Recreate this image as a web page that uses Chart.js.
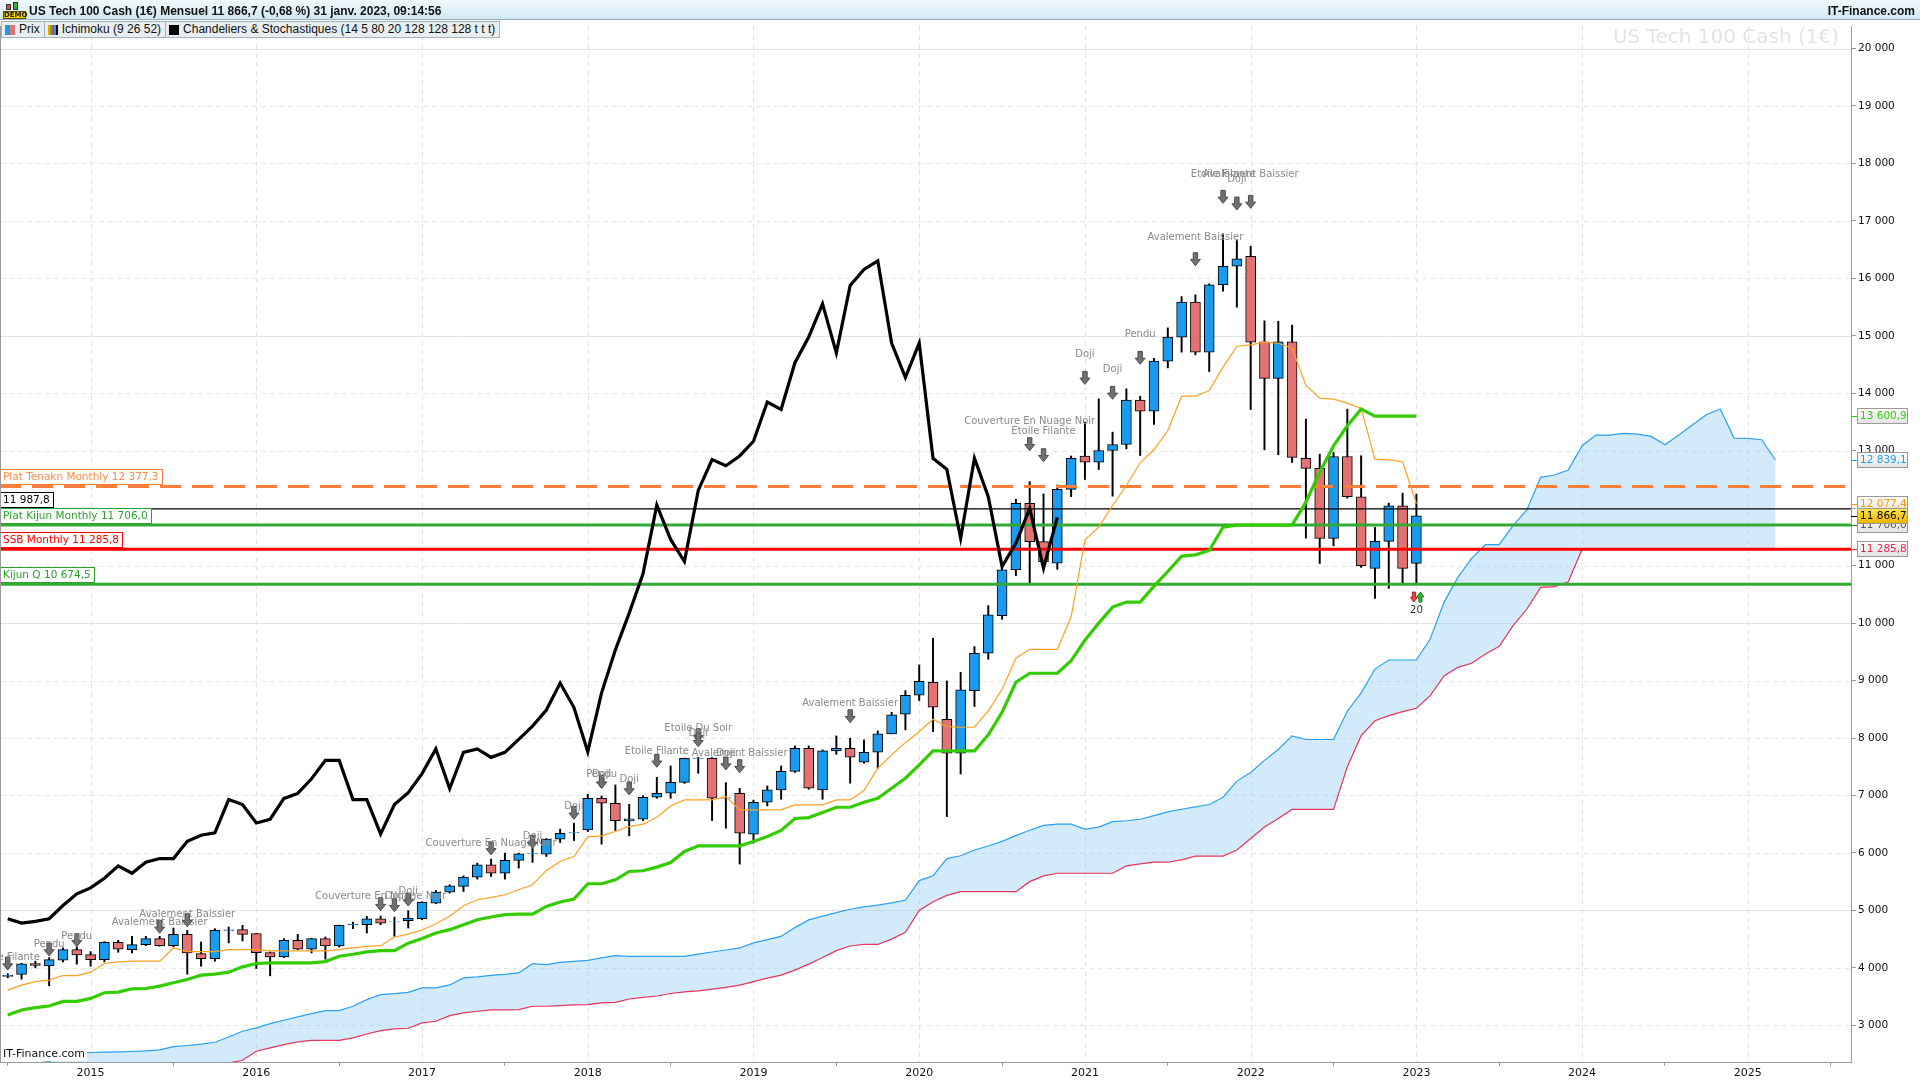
<!DOCTYPE html>
<html lang="fr">
<head>
<meta charset="utf-8">
<title>US Tech 100 Cash (1€) Mensuel</title>
<script src="https://cdn.jsdelivr.net/npm/chart.js@4.4.1/dist/chart.umd.min.js"></script>
<style>
html, body { margin: 0; padding: 0; background: #fff; }
body { position: relative; width: 1920px; height: 1080px; overflow: hidden; font-family: "Liberation Sans", Arial, sans-serif; }
#grafico { position: absolute; left: 0; top: 0; }
#entete { position: absolute; left: 0; top: 0; width: 1920px; height: 20px; box-sizing: border-box; background: linear-gradient(#f2fafd, #d0e8f3); border-bottom: 1px solid #98aebb; font-size: 12px; font-weight: bold; color: #111; line-height: 23px; z-index: 2; }
#entete .titre { position: absolute; left: 29px; top: 0; }
#entete .site { position: absolute; right: 5px; top: 0; }
#demo { position: absolute; left: 3px; top: 2px; width: 23px; height: 17px; }
#demo i { position: absolute; width: 5px; border: 1px solid #333; box-sizing: border-box; }
#demo b { position: absolute; left: 0; bottom: 0; width: 23px; height: 8px; background: #f6d200; color: #1a1a1a; font: bold 7px/7px "DejaVu Sans", sans-serif; text-align: center; border: 1px solid #5a4b00; box-sizing: border-box; }
#legende { position: absolute; left: 1px; top: 21px; height: 17px; box-sizing: border-box; display: flex; border: 1px solid #a3b2bb; background: #e9eef1; font-size: 12px; font-weight: normal; line-height: 15px; color: #111; z-index: 2; }
#legende span { display: flex; align-items: center; padding: 0 4px 0 3px; border-right: 1px solid #a3b2bb; }
#legende span:last-child { border-right: none; }
.ic { display: inline-block; width: 10px; height: 10px; margin-right: 4px; }
.prix { background: linear-gradient(90deg, #1a9bf0 50%, #e57272 50%); }
.ichi { background: linear-gradient(90deg, #ff9900 0 20%, #33cc00 20% 40%, #e8335a 40% 60%, #1a9bf0 60% 80%, #000 80%); }
.chand { background: #000; }
</style>
</head>
<body>
<canvas id="grafico" width="1920" height="1080"></canvas>
<div id="entete">
  <div id="demo"><i style="left:3px;top:2px;height:6px;background:#e04848"></i><i style="left:10px;top:0;height:8px;background:#2fb52f"></i><b>DEMO</b></div>
  <span class="titre">US Tech 100 Cash (1€) Mensuel 11 866,7 (-0,68 %) 31 janv. 2023, 09:14:56</span>
  <span class="site">IT-Finance.com</span>
</div>
<div id="legende">
  <span><i class="ic prix"></i>Prix</span>
  <span><i class="ic ichi"></i>Ichimoku (9 26 52)</span>
  <span><i class="ic chand"></i>Chandeliers &amp; Stochastiques (14 5 80 20 128 128 128 t t t)</span>
</div>
<script>
// Bougies mensuelles, de juillet 2014 (indice 0) à janvier 2023 (indice 102)
const ouvertures = [3850, 3884, 4075, 4034, 4132, 4317, 4230, 4144, 4444, 4317,
  4404, 4508, 4386, 4583, 4248, 4161, 4652, 4664, 4594, 4265,
  4190, 4479, 4323, 4508, 4381, 4745, 4750, 4854, 4797, 4820,
  4855, 5127, 5318, 5417, 5579, 5793, 5648, 5869, 5984, 5978,
  6239, 6350, 6401, 6951, 6864, 6557, 6586, 6969, 7038, 7229,
  7646, 7646, 6951, 7038, 6326, 6882, 7096, 7420, 7822, 7097,
  7775, 7822, 7578, 7752, 8071, 8413, 8744, 8970, 8326, 7735,
  8825, 9475, 10130, 10925, 12085, 11418, 11041, 12328, 12905, 12801,
  13004, 13108, 13880, 13688, 14558, 14976, 15585, 14715, 15886, 16211,
  16385, 14896, 14258, 14896, 12866, 12692, 11474, 12900, 12199, 10952,
  11421, 12042, 11039];
const plusHauts = [3901, 4080, 4115, 4178, 4346, 4363, 4283, 4456, 4479, 4548,
  4548, 4548, 4693, 4652, 4450, 4681, 4710, 4739, 4600, 4277,
  4508, 4583, 4515, 4537, 4745, 4797, 4895, 4900, 4883, 4994,
  5150, 5347, 5445, 5600, 5822, 5892, 5996, 5996, 6083, 6250,
  6413, 6517, 7021, 6992, 7183, 6847, 6992, 7316, 7513, 7650,
  7663, 7660, 7223, 7125, 6920, 7165, 7513, 7862, 7862, 7793,
  8036, 7996, 7967, 8123, 8448, 8825, 9272, 9736, 8993, 9144,
  9591, 10304, 10950, 12154, 12462, 12247, 12404, 12908, 13497, 13903,
  13323, 14077, 13949, 14610, 15138, 15683, 15712, 15904, 16774, 16658,
  16559, 15261, 15254, 15186, 13550, 12941, 12970, 13724, 12912, 11665,
  12088, 12262, 12245];
const plusBas = [3826, 3803, 4000, 3687, 4103, 4063, 4028, 4103, 4271, 4259,
  4386, 4375, 4363, 3890, 4028, 4115, 4433, 4467, 3988, 3861,
  4178, 4317, 4259, 4150, 4363, 4681, 4606, 4750, 4548, 4693,
  4838, 5115, 5300, 5330, 5544, 5590, 5544, 5735, 5834, 5938,
  6181, 6216, 6372, 6152, 6390, 6297, 6560, 6950, 6951, 7210,
  7385, 6563, 6430, 5805, 6170, 6818, 6934, 7400, 7108, 6934,
  7717, 7213, 7561, 7474, 8071, 8141, 8651, 8112, 6633, 7375,
  8547, 9370, 10066, 10826, 10681, 10954, 10936, 12201, 12499, 12673,
  12209, 13033, 12917, 13456, 14442, 14715, 14668, 14378, 15776, 15498,
  13717, 13016, 12929, 12796, 11479, 11039, 11346, 12175, 10969, 10430,
  10604, 10696, 10696];
const clotures = [3870, 4070, 4040, 4144, 4317, 4225, 4144, 4444, 4323, 4404,
  4508, 4386, 4583, 4259, 4161, 4652, 4660, 4583, 4265, 4190,
  4479, 4323, 4508, 4381, 4739, 4760, 4854, 4779, 4802, 4867,
  5139, 5318, 5428, 5579, 5793, 5648, 5869, 5984, 5990, 6239,
  6343, 6355, 6951, 6864, 6563, 6592, 6969, 7038, 7229, 7646,
  7650, 6951, 6960, 6343, 6882, 7096, 7420, 7822, 7126, 7775,
  7822, 7665, 7752, 8071, 8402, 8744, 8987, 8535, 7735, 8837,
  9475, 10142, 10925, 12085, 11418, 11070, 12328, 12868, 12801, 13004,
  13108, 13880, 13688, 14558, 14976, 15585, 14715, 15886, 16211, 16339,
  14889, 14258, 14896, 12883, 12692, 11474, 12900, 12199, 10998, 11421,
  12042, 10952, 11867];

// Ichimoku
const tenkan = [3612, 3700, 3760, 3785, 3866, 3866, 3924, 4075, 4103, 4115,
  4115, 4115, 4346, 4283, 4283, 4283, 4317, 4317, 4317, 4294,
  4294, 4294, 4294, 4294, 4317, 4346, 4375, 4386, 4537, 4586,
  4658, 4768, 4896, 5081, 5185, 5226, 5272, 5359, 5446, 5695,
  5851, 5938, 6285, 6297, 6372, 6459, 6500, 6621, 6818, 6922,
  6922, 6922, 6980, 6749, 6749, 6749, 6755, 6836, 6836, 6836,
  6923, 6923, 7085, 7474, 7706, 7920, 8112, 8326, 8199, 8187,
  8187, 8471, 8848, 9388, 9544, 9544, 9544, 10110, 11450, 11670,
  12047, 12395, 12790, 13021, 13352, 13949, 13949, 14048, 14454, 14819,
  14842, 14889, 14871, 14784, 14135, 13915, 13898, 13828, 13736, 12854,
  12842, 12808, 12077];
const kijun = [3179, 3266, 3306, 3335, 3416, 3416, 3468, 3566, 3578, 3635,
  3640, 3682, 3740, 3797, 3872, 3890, 3924, 4017, 4075, 4086,
  4086, 4086, 4086, 4109, 4202, 4236, 4277, 4300, 4300, 4430,
  4510, 4606, 4664, 4751, 4838, 4884, 4925, 4936, 4936, 5069,
  5145, 5197, 5463, 5463, 5533, 5677, 5689, 5753, 5834, 6025,
  6123, 6123, 6123, 6123, 6199, 6285, 6390, 6600, 6615, 6702,
  6795, 6795, 6882, 6952, 7126, 7300, 7532, 7775, 7775, 7775,
  7775, 8054, 8448, 8970, 9127, 9127, 9127, 9347, 9700, 10000,
  10278, 10365, 10365, 10643, 10898, 11165, 11188, 11264, 11670, 11706,
  11706, 11706, 11706, 11706, 12105, 12627, 13086, 13434, 13724, 13601,
  13601, 13601, 13601];
// nuage, décalé de 26 mois (jusqu'en mars 2025)
const ssa = [2250, 2300, 2340, 2370, 2457, 2503, 2526, 2532, 2538, 2544,
  2555, 2573, 2630, 2648, 2671, 2705, 2795, 2896, 2954, 3029,
  3087, 3145, 3203, 3255, 3255, 3331, 3447, 3534, 3551, 3574,
  3650, 3650, 3702, 3824, 3841, 3870, 3887, 3911, 4073, 4056,
  4096, 4114, 4131, 4172, 4212, 4200, 4200, 4201, 4201, 4201,
  4240, 4276, 4310, 4346, 4433, 4490, 4548, 4700, 4835, 4900,
  4960, 5020, 5060, 5090, 5130, 5176, 5518, 5603, 5902, 5950,
  6050, 6120, 6201, 6300, 6394, 6480, 6500, 6500, 6415, 6450,
  6543, 6560, 6586, 6650, 6714, 6760, 6800, 6842, 6970, 7250,
  7400, 7611, 7800, 8038, 7974, 7974, 7974, 8466, 8786, 9200,
  9358, 9358, 9358, 9723, 10361, 10796, 11127, 11364, 11364, 11695,
  11968, 12536, 12577, 12664, 13087, 13273, 13273, 13302, 13290, 13249,
  13104, 13273, 13452, 13626, 13725, 13220, 13215, 13191, 12839];
const ssb = [1950, 1980, 2010, 2040, 2080, 2110, 2140, 2160, 2180, 2200,
  2220, 2240, 2260, 2280, 2300, 2320, 2345, 2391, 2548, 2606,
  2664, 2710, 2739, 2739, 2739, 2780, 2849, 2907, 2936, 2948,
  3041, 3070, 3168, 3215, 3244, 3267, 3267, 3273, 3331, 3331,
  3342, 3354, 3360, 3389, 3400, 3458, 3487, 3510, 3553, 3580,
  3600, 3630, 3660, 3700, 3760, 3820, 3873, 3960, 4065, 4180,
  4300, 4380, 4407, 4407, 4500, 4620, 5000, 5150, 5260, 5326,
  5326, 5326, 5326, 5326, 5500, 5600, 5646, 5646, 5646, 5646,
  5646, 5774, 5810, 5838, 5838, 5880, 5945, 5945, 5945, 6050,
  6250, 6450, 6600, 6757, 6757, 6757, 6757, 7500, 8040, 8300,
  8389, 8459, 8517, 8737, 9080, 9230, 9300, 9462, 9595, 9955,
  10245, 10622, 10633, 10720, 11286, 11286, 11286, 11286, 11286, 11286,
  11286, 11286, 11286, 11286, 11286, 11286, 11286, 11286, 11286];

// courbe noire "Chandeliers & Stochastiques" (s'arrête en novembre 2020)
const stochastique = [4854, 4779, 4808, 4854, 5085, 5288, 5392, 5560, 5774, 5646,
  5838, 5902, 5902, 6201, 6308, 6351, 6928, 6842, 6522, 6586,
  6949, 7035, 7291, 7611, 7611, 6928, 6928, 6330, 6842, 7050,
  7380, 7810, 7120, 7750, 7810, 7663, 7750, 7976, 8208, 8486,
  8957, 8530, 7762, 8786, 9534, 10174, 10858, 12054, 11456, 11072,
  12310, 12845, 12738, 12909, 13165, 13848, 13720, 14532, 14980, 15557,
  14703, 15877, 16155, 16305, 14874, 14275, 14874, 12868, 12676, 11476,
  12868, 12201, 10983, 11389, 11998, 10954, 11841];

const annees = ['2015', '2016', '2017', '2018', '2019', '2020', '2021', '2022', '2023', '2024', '2025'];
const graduationsPrix = [3000, 4000, 5000, 6000, 7000, 8000, 9000, 10000, 11000,
  12000, 13000, 14000, 15000, 16000, 17000, 18000, 19000, 20000];

// niveaux horizontaux
const niveaux = [12377.3, 11987.8, 11706.0, 11285.8, 10674.5];
const nomsNiveaux = ['Plat Tenakn Monthly', '', 'Plat Kijun Monthly', 'SSB Monthly', 'Kijun Q'];
// étiquettes de l'axe de droite
const valeursDroite = [13600.9, 12839.1, 12077.4, 11706.0, 11866.7, 11285.8];

// figures de chandeliers : [mois, texte, pointe de la flèche, centre du texte]
const figures = [
  [0, 'Etoile Filante', 3962, 4183],
  [3, 'Pendu', 4206, 4415],
  [5, 'Pendu', 4368, 4542],
  [11, 'Avalement Baissier', 4601, 4792],
  [13, 'Avalement Baissier', 4716, 4937],
  [27, 'Couverture En Nuage Noir', 4995, 5238],
  [28, 'Doji', 4977, 5238],
  [29, 'Doji', 5076, 5325],
  [35, 'Couverture En Nuage Noir', 5966, 6167],
  [38, 'Doji', 6080, 6294],
  [41, 'Doji', 6585, 6804],
  [43, 'Pendu', 7124, 7373],
  [43, 'Doji', 7124, 7373],
  [45, 'Doji', 7008, 7281],
  [47, 'Etoile Filante', 7490, 7761],
  [50, 'Etoile Du Soir', 7935, 8169],
  [50, 'Doji', 7848, 8082],
  [52, 'Doji', 7443, 7733],
  [53, 'Avalement Baissier', 7396, 7733],
  [61, 'Avalement Baissier', 8266, 8604],
  [74, 'Couverture En Nuage Noir', 13000, 13504],
  [75, 'Etoile Filante', 12808, 13330],
  [78, 'Doji', 14155, 14682],
  [80, 'Doji', 13894, 14416],
  [82, 'Pendu', 14503, 15030],
  [86, 'Avalement Baissier', 16220, 16713],
  [88, 'Etoile Filante', 17305, 17810],
  [89, 'Doji', 17189, 17723],
  [90, 'Avalement Baissier', 17218, 17810]
];
// signal sous la dernière bougie
const signal = { mois: 102, prix: 10453, texte: '20' };

const xMin = -0.56, xMax = 133.47;
const yMin = 2361, yMax = 20392;

function fmt(v, d) {
  var partes = v.toFixed(d).split('.');
  var ent = partes[0].replace(/\B(?=(\d{3})+(?!\d))/g, ' ');
  return partes.length > 1 ? ent + ',' + partes[1] : ent;
}
function serie(valores) {
  return valores.map((v, i) => ({ x: i, y: v }));
}
function ligne(valores, couleur, epaisseur, ordre, extra) {
  return Object.assign({
    type: 'line', data: serie(valores), borderColor: couleur, borderWidth: epaisseur,
    pointRadius: 0, tension: 0, fill: false, order: ordre
  }, extra || {});
}

// grille, filigrane
const grille = {
  id: 'grille',
  beforeDatasetsDraw(chart) {
    const { ctx, chartArea: a, scales: { x, y } } = chart;
    ctx.save();
    ctx.beginPath();
    ctx.rect(a.left, a.top, a.right - a.left, a.bottom - a.top);
    ctx.clip();
    ctx.font = '20px "DejaVu Sans"';
    ctx.fillStyle = '#e4e4e4';
    ctx.textAlign = 'right';
    ctx.textBaseline = 'alphabetic';
    ctx.fillText('US Tech 100 Cash (1€)', 1839, 43);
    ctx.lineWidth = 1;
    graduationsPrix.forEach(v => {
      const py = Math.round(y.getPixelForValue(v)) + 0.5;
      const plein = v % 5000 === 0;
      ctx.strokeStyle = plein ? '#e3e3e3' : '#e6e6e6';
      ctx.setLineDash(plein ? [] : [5, 4]);
      ctx.beginPath(); ctx.moveTo(a.left, py); ctx.lineTo(a.right, py); ctx.stroke();
    });
    ctx.strokeStyle = '#e3e3e3';
    ctx.setLineDash([5, 4]);
    annees.forEach((an, k) => {
      const px = Math.round(x.getPixelForValue(6 + 12 * k)) + 0.5;
      ctx.beginPath(); ctx.moveTo(px, a.top); ctx.lineTo(px, a.bottom); ctx.stroke();
    });
    ctx.restore();
  }
};

function fleche(ctx, x, yPointe, bas, remplissage, trait, l, h) {
  const s = bas ? 1 : -1;
  const tete = h * 0.48;
  ctx.beginPath();
  ctx.moveTo(x - l * 0.22, yPointe - s * h);
  ctx.lineTo(x + l * 0.22, yPointe - s * h);
  ctx.lineTo(x + l * 0.22, yPointe - s * tete);
  ctx.lineTo(x + l / 2, yPointe - s * tete);
  ctx.lineTo(x, yPointe);
  ctx.lineTo(x - l / 2, yPointe - s * tete);
  ctx.lineTo(x - l * 0.22, yPointe - s * tete);
  ctx.closePath();
  ctx.fillStyle = remplissage;
  ctx.fill();
  ctx.strokeStyle = trait;
  ctx.lineWidth = 1;
  ctx.stroke();
}

// figures, étiquettes à gauche et à droite
const reperes = {
  id: 'reperes',
  afterDraw(chart) {
    const { ctx, chartArea: a, scales: { x, y } } = chart;
    ctx.save();
    ctx.beginPath();
    ctx.rect(a.left, a.top, a.right - a.left, a.bottom - a.top);
    ctx.clip();
    ctx.font = '10px "DejaVu Sans"';
    ctx.textAlign = 'center';
    ctx.textBaseline = 'middle';
    figures.forEach(f => {
      const px = x.getPixelForValue(f[0]);
      fleche(ctx, px, y.getPixelForValue(f[2]), true, '#717171', '#4d4d4d', 10, 13);
      ctx.fillStyle = '#8a8a8a';
      ctx.fillText(f[1], px, y.getPixelForValue(f[3]));
    });
    // signal
    const sx = x.getPixelForValue(signal.mois);
    const sy = y.getPixelForValue(signal.prix);
    fleche(ctx, sx - 2.5, sy + 5, true, '#e04848', '#b02020', 7, 10);
    fleche(ctx, sx + 4, sy - 5, false, '#2fb52f', '#1a7a1a', 7, 10);
    ctx.fillStyle = '#333';
    ctx.font = '10px "DejaVu Sans"';
    ctx.fillText(signal.texte, sx, sy + 13);
    ctx.restore();

    // étiquettes des niveaux, à gauche
    const couleursNiv = ['#ff7f3a', '#000000', '#2ea02e', '#ff0000', '#2ea02e'];
    ctx.save();
    ctx.font = '10.5px "DejaVu Sans"';
    ctx.textAlign = 'left';
    ctx.textBaseline = 'middle';
    niveaux.forEach((v, k) => {
      const texte = (nomsNiveaux[k] ? nomsNiveaux[k] + ' ' : '') + fmt(v, 1);
      const py = y.getPixelForValue(v);
      const w = ctx.measureText(texte).width + 6;
      ctx.fillStyle = '#fff';
      ctx.fillRect(0.5, py - 17, w, 15);
      ctx.strokeStyle = couleursNiv[k];
      ctx.lineWidth = 1;
      ctx.strokeRect(0.5, Math.round(py - 17) + 0.5, Math.round(w), 15);
      ctx.fillStyle = k === 0 ? '#ff8a4a' : couleursNiv[k];
      ctx.fillText(texte, 3, Math.round(py - 17) + 8);
    });

    // étiquettes de l'axe de droite
    const couleursDroite = ['#33cc00', '#1e9bff', '#ff9900', '#555555', '#000000', '#e8204f'];
    valeursDroite.forEach((v, k) => {
      const py = Math.round(y.getPixelForValue(v));
      const prix = k === 4;
      const g = ctx.createLinearGradient(0, py - 7, 0, py + 7);
      g.addColorStop(0, prix ? '#ffe552' : '#fdfdfd');
      g.addColorStop(1, prix ? '#f0b400' : '#e4e4e4');
      ctx.fillStyle = g;
      ctx.fillRect(1857.5, py - 7.5, 50, 15);
      ctx.strokeStyle = '#9a9a9a';
      ctx.strokeRect(1857.5, py - 7.5, 50, 15);
      ctx.strokeStyle = couleursDroite[k];
      ctx.beginPath(); ctx.moveTo(1851, py + 0.5); ctx.lineTo(1857, py + 0.5); ctx.stroke();
      ctx.fillStyle = couleursDroite[k];
      ctx.fillText(fmt(v, 1), 1860, py + 0.5);
    });

    // bord gauche et signature
    ctx.strokeStyle = '#9a9a9a';
    ctx.beginPath(); ctx.moveTo(0.5, a.top); ctx.lineTo(0.5, a.bottom); ctx.stroke();
    ctx.font = '11px "DejaVu Sans"';
    const w = ctx.measureText('IT-Finance.com').width;
    ctx.fillStyle = '#fff';
    ctx.fillRect(1, 1046, w + 4, 15);
    ctx.fillStyle = '#111';
    ctx.fillText('IT-Finance.com', 3, 1054);
    ctx.restore();
  }
};

const bleu = '#1a9bf0', rouge = '#e57272';
const couleursCorps = ouvertures.map((o, i) => clotures[i] >= o ? bleu : rouge);

const styleNiv = [
  { borderColor: '#ff7f3a', borderWidth: 3, borderDash: [21, 11] },
  { borderColor: '#000000', borderWidth: 1.2 },
  { borderColor: '#33aa33', borderWidth: 3 },
  { borderColor: '#ff0000', borderWidth: 3 },
  { borderColor: '#33aa33', borderWidth: 3 }
];
const lignesNiveaux = niveaux.map((v, k) => Object.assign({
  type: 'line', data: [{ x: xMin, y: v }, { x: xMax, y: v }],
  pointRadius: 0, fill: false, order: 10, clip: 0
}, styleNiv[k]));

var ctx = document.getElementById('grafico').getContext('2d');
new Chart(ctx, {
  type: 'bar',
  data: {
    datasets: [
      ligne(ssa, '#2aa0f5', 1.2, 20, { fill: '+1', backgroundColor: 'rgba(140, 200, 245, 0.38)' }),
      ligne(ssb, '#e8335a', 1.2, 19),
      {
        type: 'bar', data: plusBas.map((b, i) => ({ x: i, y: [b, plusHauts[i]] })),
        backgroundColor: '#000', barThickness: 1.3, grouped: false, order: 15
      },
      {
        type: 'bar', data: ouvertures.map((o, i) => ({ x: i, y: [o, clotures[i]] })),
        backgroundColor: couleursCorps, borderColor: '#000', borderWidth: 1,
        borderSkipped: false, barThickness: 10, grouped: false, order: 14
      },
      ...lignesNiveaux,
      ligne(tenkan, '#ffa020', 1.2, 5),
      ligne(kijun, '#33cc00', 3.2, 4),
      ligne(stochastique, '#000000', 3.2, 3)
    ]
  },
  options: {
    responsive: false,
    animation: false,
    devicePixelRatio: 1,
    layout: { padding: { top: 26, left: 0, right: 0, bottom: 0 } },
    plugins: { legend: { display: false }, tooltip: { enabled: false } },
    scales: {
      x: {
        type: 'linear', min: xMin, max: xMax, offset: false,
        afterBuildTicks: s => { s.ticks = annees.map((an, k) => ({ value: 6 + 12 * k })); },
        afterFit: s => { s.height = 18; },
        ticks: {
          autoSkip: false, maxRotation: 0, padding: 1, color: '#111',
          font: { family: 'DejaVu Sans', size: 11 },
          callback: (v, k) => annees[k]
        },
        grid: { drawOnChartArea: false, tickLength: 4, tickColor: '#9a9a9a' },
        border: { color: '#9a9a9a' }
      },
      y: {
        position: 'right', min: yMin, max: yMax,
        afterBuildTicks: s => { s.ticks = graduationsPrix.map(v => ({ value: v })); },
        afterFit: s => { s.width = 69; },
        ticks: {
          padding: 2, color: '#111',
          font: { family: 'DejaVu Sans', size: 10.5 },
          callback: v => fmt(v, 0)
        },
        grid: { drawOnChartArea: false, tickLength: 5, tickColor: '#9a9a9a' },
        border: { color: '#9a9a9a' }
      }
    }
  },
  plugins: [grille, reperes]
});
</script>
</body>
</html>
